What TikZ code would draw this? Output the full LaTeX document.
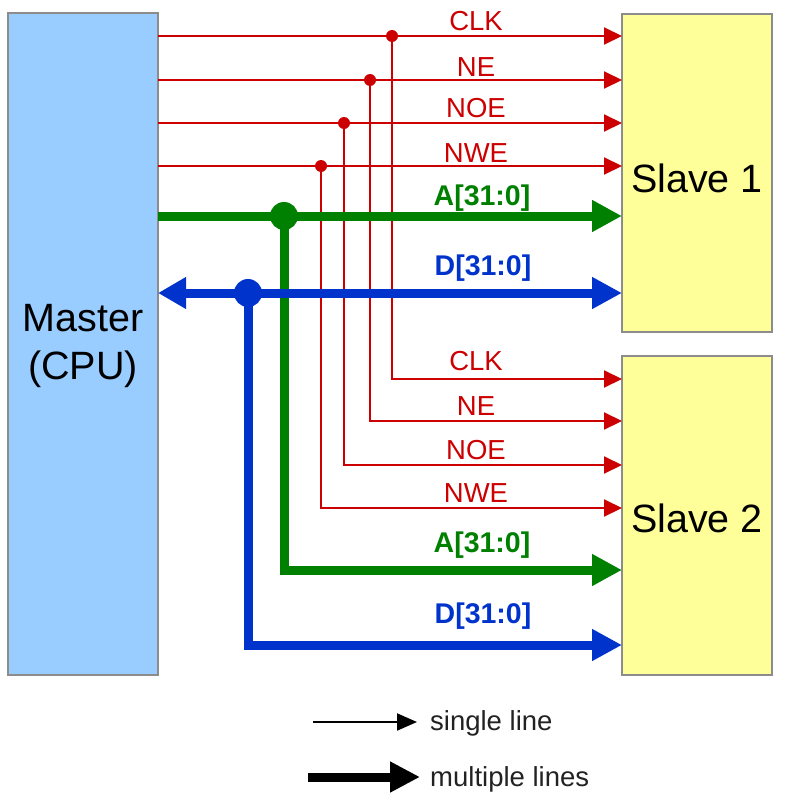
\documentclass[tikz,border=0pt]{standalone}
\usepackage{fontspec}
\setmainfont{Liberation Sans}
\usetikzlibrary{arrows.meta}
\definecolor{sigred}{HTML}{CC0000}
\definecolor{siggreen}{HTML}{008000}
\definecolor{sigblue}{HTML}{0033CC}
\definecolor{masterfill}{HTML}{99CCFF}
\definecolor{slavefill}{HTML}{FFFF99}
\definecolor{boxline}{HTML}{8C8C8C}
\definecolor{legendtext}{HTML}{222222}
\begin{document}
\begin{tikzpicture}[x=1pt,y=-1pt,
  unitbox/.style={draw=boxline, line width=1.5pt, inner sep=0pt, outer sep=0pt, anchor=north west},
  bigtext/.style={font=\fontsize{39.5}{48}\selectfont, align=center, inner sep=0pt},
  redsig/.style={draw=sigred, line width=2pt, -{Triangle[length=18pt,width=17pt]}},
  greensig/.style={draw=siggreen, line width=9pt, line join=miter, -{Triangle[length=30pt,width=30pt]}},
  bluesig/.style={draw=sigblue, line width=9pt, line join=miter, -{Triangle[length=30pt,width=30pt]}},
  redlabel/.style={text=sigred, font=\fontsize{27.5}{30}\selectfont, anchor=base, inner sep=0pt},
  greenlabel/.style={text=siggreen, font=\bfseries\fontsize{28.5}{30}\selectfont, anchor=base, inner sep=0pt},
  bluelabel/.style={text=sigblue, font=\bfseries\fontsize{28.5}{30}\selectfont, anchor=base, inner sep=0pt},
  legendlabel/.style={text=legendtext, font=\fontsize{27.5}{30}\selectfont, anchor=base west, inner sep=0pt},
  reddot/.style={fill=sigred, draw=none},
]
\useasboundingbox (0,0) rectangle (787,795);

% boxes
\node[unitbox, fill=masterfill, minimum width=150pt, minimum height=662pt] (master) at (8,13) {};
\node[unitbox, fill=slavefill, minimum width=150pt, minimum height=318pt] (slave1) at (622,14) {};
\node[unitbox, fill=slavefill, minimum width=150pt, minimum height=319pt] (slave2) at (622,356) {};
\node[bigtext] (mastertext) at (83,346) {Master\\(CPU)};
\node[bigtext] (slave1text) at (697,178) {Slave 1};
\node[bigtext] (slave2text) at (697,518) {Slave 2};

% junction coordinates (upper rows)
\coordinate (jclk) at (392,36);
\coordinate (jne)  at (370,80);
\coordinate (jnoe) at (344,123);
\coordinate (jnwe) at (321,166);
\coordinate (ja)   at (284,216);
\coordinate (jd)   at (248,293);
% lower row heights
\coordinate (yclk) at (0,379);
\coordinate (yne)  at (0,421);
\coordinate (ynoe) at (0,465);
\coordinate (ynwe) at (0,508);
\coordinate (ya)   at (0,570);
\coordinate (yd)   at (0,645);

% red control lines
\draw[redsig] (master.east |- jclk) -- (slave1.west |- jclk);
\draw[redsig] (master.east |- jne)  -- (slave1.west |- jne);
\draw[redsig] (master.east |- jnoe) -- (slave1.west |- jnoe);
\draw[redsig] (master.east |- jnwe) -- (slave1.west |- jnwe);
\draw[redsig] (jclk) |- (slave2.west |- yclk);
\draw[redsig] (jne)  |- (slave2.west |- yne);
\draw[redsig] (jnoe) |- (slave2.west |- ynoe);
\draw[redsig] (jnwe) |- (slave2.west |- ynwe);
\fill[reddot] (jclk) circle (6pt);
\fill[reddot] (jne)  circle (6pt);
\fill[reddot] (jnoe) circle (6pt);
\fill[reddot] (jnwe) circle (6pt);

% address bus
\draw[greensig] (master.east |- ja) -- (slave1.west |- ja);
\draw[greensig] (ja) |- (slave2.west |- ya);
\fill[siggreen] (ja) circle (14pt);

% data bus
\draw[bluesig, {Triangle[length=28pt,width=30pt]}-{Triangle[length=30pt,width=30pt]}] (master.east |- jd) -- (slave1.west |- jd);
\draw[bluesig] (jd) |- (slave2.west |- yd);
\fill[sigblue] (jd) circle (14pt);

% labels upper
\node[redlabel] (lclk1) at (476,30) {CLK};
\node[redlabel] (lne1)  at (476,76) {NE};
\node[redlabel] (lnoe1) at (476,117) {NOE};
\node[redlabel] (lnwe1) at (476,162) {NWE};
\node[greenlabel] (la1) at (482,205) {A[31:0]};
\node[bluelabel]  (ld1) at (483,275) {D[31:0]};
% labels lower
\node[redlabel] (lclk2) at (476,370) {CLK};
\node[redlabel] (lne2)  at (476,415) {NE};
\node[redlabel] (lnoe2) at (476,459) {NOE};
\node[redlabel] (lnwe2) at (476,502) {NWE};
\node[greenlabel] (la2) at (482,552) {A[31:0]};
\node[bluelabel]  (ld2) at (483,623) {D[31:0]};

% legend
\coordinate (leg1a) at (313,722);
\coordinate (leg1b) at (417,722);
\coordinate (leg2a) at (308,777);
\coordinate (leg2b) at (420,777);
\draw[black, line width=2pt, -{Triangle[length=20pt,width=17pt]}] (leg1a) -- (leg1b);
\draw[black, line width=9pt, -{Triangle[length=30pt,width=29pt]}] (leg2a) -- (leg2b);
\node[legendlabel] (leg1t) at (430,730) {single line};
\node[legendlabel] (leg2t) at (430,786) {multiple lines};
\end{tikzpicture}
\end{document}
